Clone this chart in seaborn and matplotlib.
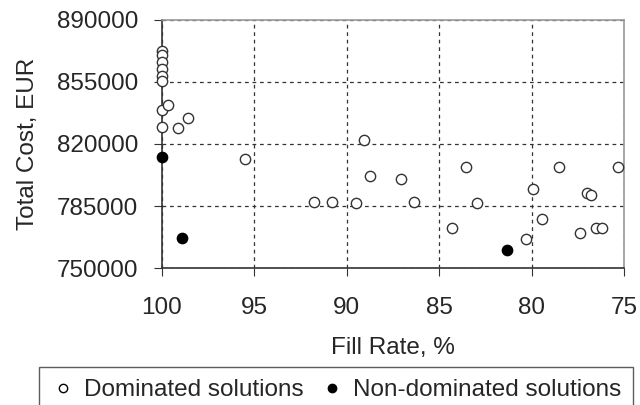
import matplotlib
matplotlib.use("Agg")
import matplotlib.pyplot as plt
import seaborn as sns
import pandas as pd
from matplotlib.lines import Line2D

dom_fill = [100, 100, 100, 100, 100, 100, 100, 100, 99.66, 99.12, 98.61, 95.49,
            91.76, 90.8, 89.49, 89.05, 88.76, 87.08, 86.35, 83.57, 84.31, 82.94,
            80.32, 79.92, 79.42, 78.53, 77.38, 77.02, 76.79, 76.52, 76.19, 75.34]
dom_cost = [872500, 870000, 866000, 862000, 858500, 855500, 839200, 829800, 842000, 829200,
            834500, 811500, 787300, 787300, 786500, 822300, 801800, 800200, 787300, 807200,
            772600, 786500, 766200, 794800, 777800, 807200, 769900, 792200, 791000, 772600,
            772600, 807200]
nd_fill = [100, 98.9, 81.31]
nd_cost = [812500, 766800, 760200]

x_ticks = [100, 95, 90, 85, 80, 75]
y_ticks = [750000, 785000, 820000, 855000, 890000]

sns.set_style("white")
plt.rcParams['font.family'] = ['Liberation Sans', 'DejaVu Sans']
FS = 17.5

fig = plt.figure(figsize=(6.4, 4.05), dpi=100)
ax = fig.add_axes([0.253, 0.338, 0.722, 0.613])

dom = pd.DataFrame({"fill": dom_fill, "cost": dom_cost})
nd = pd.DataFrame({"fill": nd_fill, "cost": nd_cost})

sns.scatterplot(data=dom, x="fill", y="cost", ax=ax, s=55, facecolor="white",
                edgecolor="#333333", linewidth=1.0, zorder=3, clip_on=False)
sns.scatterplot(data=nd, x="fill", y="cost", ax=ax, s=55, color="black",
                edgecolor="black", linewidth=1.0, zorder=4, clip_on=False)

ax.set_xlim(100, 75)
ax.set_ylim(750000, 890000)
ax.set_xticks(x_ticks)
ax.set_xticklabels([str(v) for v in x_ticks])
ax.set_yticks(y_ticks)
ax.set_yticklabels([str(v) for v in y_ticks])
ax.grid(True, linestyle=(0, (3, 3)), color="#333333", linewidth=0.9)
ax.set_axisbelow(True)
ax.tick_params(axis="both", labelsize=FS, length=6, direction="out", color="#333333",
               bottom=True, left=True)
ax.tick_params(axis="x", pad=15)
ax.tick_params(axis="y", pad=11)
ax.set_xlabel("Fill Rate, %", fontsize=FS, labelpad=13)
ax.set_ylabel("Total Cost, EUR", fontsize=FS, labelpad=13)
for side in ["left", "bottom"]:
    ax.spines[side].set_color("#333333")
    ax.spines[side].set_linewidth(1.2)
for side in ["top", "right"]:
    ax.spines[side].set_color("#999999")
    ax.spines[side].set_linewidth(1.2)

handles = [
    Line2D([], [], marker="o", linestyle="none", markerfacecolor="white",
           markeredgecolor="black", markersize=6),
    Line2D([], [], marker="o", linestyle="none", markerfacecolor="black",
           markeredgecolor="black", markersize=6),
]
leg = fig.legend(handles, ["Dominated solutions", "Non-dominated solutions"],
                 loc="upper center", bbox_to_anchor=(0.525, 0.094), ncol=2, fontsize=FS,
                 frameon=True, fancybox=False, handletextpad=0.35, columnspacing=0.7,
                 handlelength=1.0, borderpad=0.5, borderaxespad=0.0)
leg.get_frame().set_edgecolor("#333333")
leg.get_frame().set_linewidth(1.0)

fig.savefig("out.png", dpi=100)
